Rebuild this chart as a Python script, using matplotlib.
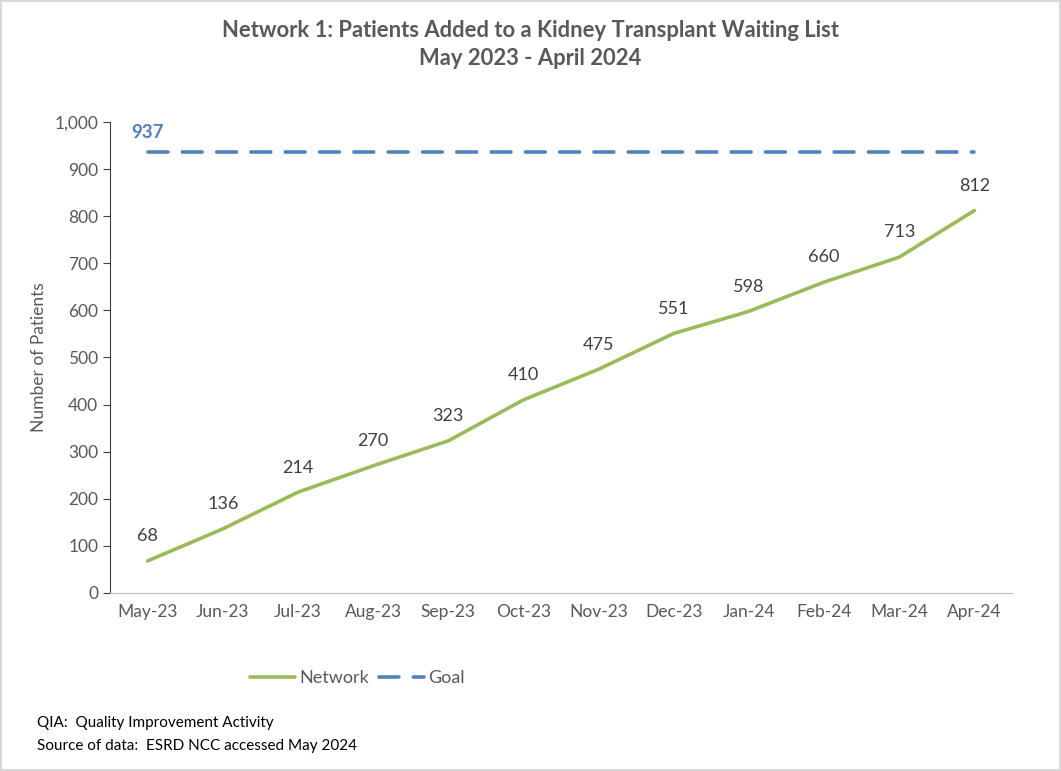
import matplotlib.pyplot as plt
from matplotlib.patches import Rectangle

months = ["May-23", "Jun-23", "Jul-23", "Aug-23", "Sep-23", "Oct-23",
          "Nov-23", "Dec-23", "Jan-24", "Feb-24", "Mar-24", "Apr-24"]
network = [68, 136, 214, 270, 323, 410, 475, 551, 598, 660, 713, 812]
goal = 937
yticks = [0, 100, 200, 300, 400, 500, 600, 700, 800, 900, 1000]

plt.rcParams['font.family'] = ['Lato', 'DejaVu Sans']
txt = "#595959"

fig = plt.figure(figsize=(10.61, 7.71), dpi=100)
ax = fig.add_axes([0.1037, 0.2309, 0.8501, 0.6109])

x = list(range(len(months)))
ax.plot(x, network, color="#9BBB59", lw=2.6, label="Network", solid_capstyle="round")
ax.plot(x, [goal] * len(x), color="#4F81BD", lw=2.6, ls=(0, (5.5, 4)),
        label="Goal", dash_capstyle="round")

for xi, v in zip(x, network):
    ax.annotate(f"{v}", (xi, v), xytext=(0, 12), textcoords="offset points",
                ha="center", va="bottom", fontsize=13, color="#404040")
ax.annotate(f"{goal}", (0, goal), xytext=(0, 8), textcoords="offset points",
            ha="center", va="bottom", fontsize=13.5, color="#4F81BD", fontweight="bold")

ax.set_xlim(-0.5, len(months) - 0.5)
ax.set_ylim(0, 1000)
ax.set_xticks(x)
ax.set_xticklabels(months)
ax.set_yticks(yticks)
ax.set_yticklabels([f"{t:,}" for t in yticks])
ax.tick_params(axis="x", length=0, pad=8, labelsize=12.5, labelcolor=txt)
ax.tick_params(axis="y", length=5, direction="out", color="#404040", labelsize=12.5, labelcolor=txt)
ax.set_ylabel("Number of Patients", fontsize=12.5, color=txt, labelpad=5)

for s in ["top", "right"]:
    ax.spines[s].set_visible(False)
ax.spines["left"].set_color("#404040")
ax.spines["bottom"].set_color("#BFBFBF")

fig.text(0.5, 0.961, "Network 1: Patients Added to a Kidney Transplant Waiting List",
         ha="center", va="center", fontsize=15.8, fontweight="bold", color=txt)
fig.text(0.5, 0.924, "May 2023 - April 2024",
         ha="center", va="center", fontsize=15.8, fontweight="bold", color=txt)

fig.legend(loc="center", bbox_to_anchor=(0.337, 0.12), ncol=2, frameon=False,
           fontsize=13, labelcolor=txt, handlelength=2.5, handletextpad=0.25,
           columnspacing=0.5)

fig.text(0.035, 0.062, "QIA:  Quality Improvement Activity", fontsize=11, color="black", va="center")
fig.text(0.035, 0.033, "Source of data:  ESRD NCC accessed May 2024", fontsize=11, color="black", va="center")

fig.add_artist(Rectangle((0.001, 0.001), 0.998, 0.998, transform=fig.transFigure,
                         fill=False, edgecolor="#D9D9D9", lw=1.5))

fig.savefig("out.png", dpi=100)
